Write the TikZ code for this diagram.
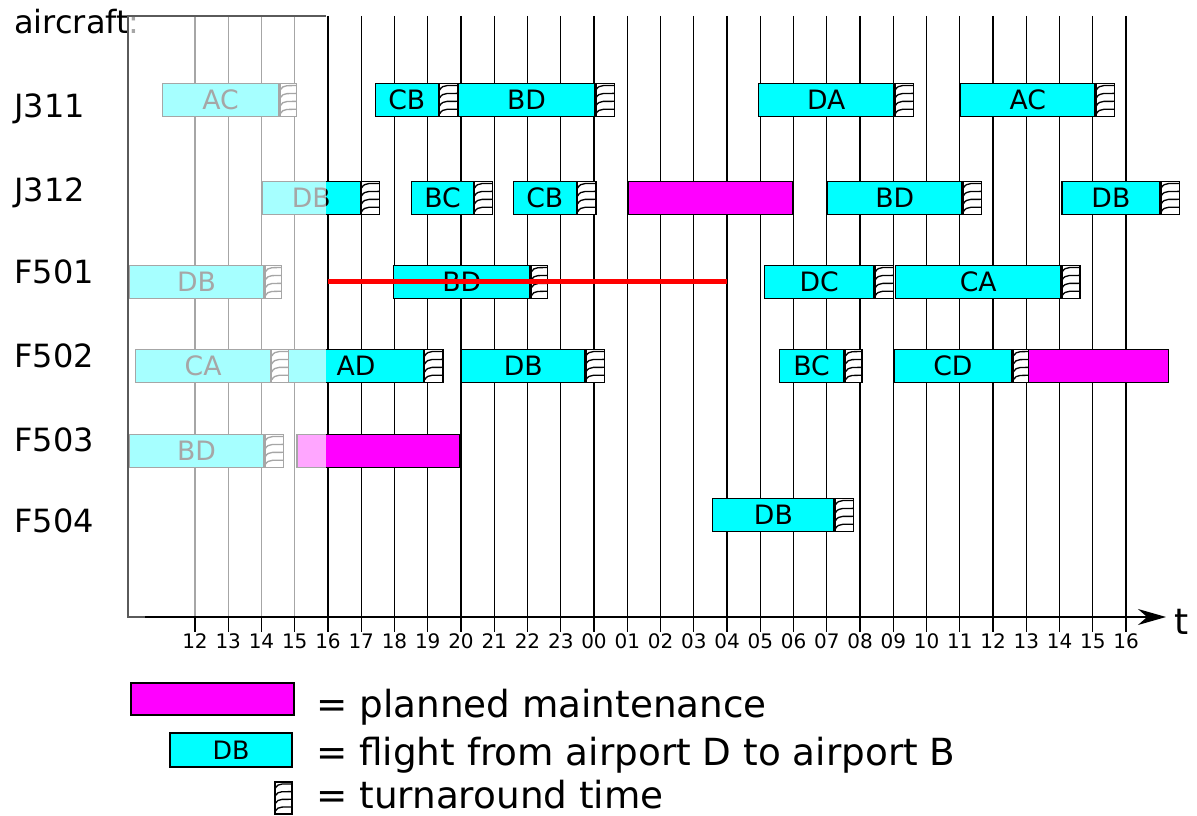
\documentclass[tikz,border=0pt]{standalone}
\usepackage{fontspec}
\setmainfont{DejaVu Sans}
\usetikzlibrary{arrows.meta,calc}
\definecolor{flightcyan}{HTML}{00FFFF}
\definecolor{maintmag}{HTML}{FF00FF}
\definecolor{delayred}{HTML}{FF0000}
\definecolor{pastgray}{HTML}{5A5A5A}
\newcommand{\hrpt}{24.9375pt}
\tikzset{
  flight/.style={rectangle,draw=black,fill=flightcyan,line width=1pt,minimum height=24.75pt,
    inner sep=0pt,font=\fontsize{20}{20}\selectfont},
  maint/.style={rectangle,draw=black,fill=maintmag,line width=1pt,minimum height=24.75pt,inner sep=0pt},
  turnaround/.style={rectangle,draw=black,fill=white,line width=0.9pt,minimum height=24.75pt,inner sep=0pt,
    path picture={
      \foreach \k in {0.08,0.32,0.56,0.80}{
        \draw[line width=1pt]
          ($(path picture bounding box.south west)!\k!(path picture bounding box.north west)$)
          to[out=65,in=185]
          ($(path picture bounding box.south east)!\k+0.14!(path picture bounding box.north east)$);
      }}},
  gridline/.style={line width=1.1pt,black},
  hourlab/.style={anchor=base,inner sep=0pt,font=\fontsize{15}{15}\selectfont},
  rowlab/.style={anchor=base west,inner sep=0pt,font=\fontsize{24}{24}\selectfont},
  legendlab/.style={anchor=base west,inner sep=0pt,font=\fontsize{28}{28}\selectfont},
}
% bar of one flight and its turnaround: name, row y, start, landing, ready, label
\newcommand{\flightbar}[6]{%
  \node[flight,anchor=west,minimum width={(#4-#3)*\hrpt}] (#1) at ({hr(#3)},#2) {#6};
  \node[turnaround,anchor=west,minimum width={(#5-#4)*\hrpt}] (#1T) at (#1.east) {};
}
\begin{document}
\begin{tikzpicture}[x=0.75pt,y=-0.75pt,declare function={hr(\h)=328+33.25*(\h-16);}]
  \useasboundingbox (0,0) rectangle (1197,816);
  % hour grid
  \foreach \h in {12,...,40}
    \draw[gridline] ({hr(\h)},16) -- ({hr(\h)},632);
  \foreach \lab [count=\i from 12] in {12,13,14,15,16,17,18,19,20,21,22,23,00,01,02,03,04,05,06,07,08,09,10,11,12,13,14,15,16}
    \node[hourlab] (h\i) at ({hr(\i)},648) {\lab};

  % aircraft rows
  \node[rowlab] (aircraft) at (14,34) {aircraft:};
  \node[rowlab] (lj311) at (14,118) {J311};
  \node[rowlab] (lj312) at (14,202) {J312};
  \node[rowlab] (lf501) at (14,284) {F501};
  \node[rowlab] (lf502) at (14,368) {F502};
  \node[rowlab] (lf503) at (14,452) {F503};
  \node[rowlab] (lf504) at (14,533) {F504};

  % J311
  \flightbar{jaa}{100}{11.0}{14.5}{15.0}{AC}
  \flightbar{jab}{100}{17.4}{19.3}{19.85}{CB}
  \flightbar{jac}{100}{19.9}{24.0}{24.55}{BD}
  \flightbar{jad}{100}{28.93}{33.0}{33.55}{DA}
  \flightbar{jae}{100}{35.0}{39.05}{39.6}{AC}
  % J312
  \flightbar{jba}{198}{14.0}{16.95}{17.5}{DB}
  \flightbar{jbb}{198}{18.5}{20.35}{20.9}{BC}
  \flightbar{jbc}{198}{21.55}{23.45}{24.0}{CB}
  \node[maint,anchor=west,minimum width={4.95*\hrpt}] (jbm) at ({hr(25.0)},198) {};
  \flightbar{jbd}{198}{31.0}{35.05}{35.6}{BD}
  \flightbar{jbe}{198}{38.05}{41.0}{41.55}{DB}
  % F501
  \flightbar{faa}{282}{10.0}{14.05}{14.55}{DB}
  \flightbar{fab}{282}{17.95}{22.05}{22.55}{BD}
  \flightbar{fac}{282}{29.1}{32.4}{32.95}{DC}
  \flightbar{fad}{282}{33.05}{38.02}{38.56}{CA}
  % F502
  \flightbar{fba}{366}{10.2}{14.25}{14.8}{CA}
  \flightbar{fbb}{366}{14.8}{18.85}{19.4}{AD}
  \flightbar{fbc}{366}{20.0}{23.7}{24.25}{DB}
  \flightbar{fbd}{366}{29.55}{31.5}{32.0}{BC}
  \flightbar{fbe}{366}{33.0}{36.55}{37.05}{CD}
  \node[maint,anchor=west,minimum width={4.2*\hrpt}] (fbm) at ({hr(37.05)},366) {};
  % F503
  \flightbar{fca}{451}{10.0}{14.05}{14.6}{BD}
  \node[maint,anchor=west,minimum width={4.9*\hrpt}] (fcm) at ({hr(15.05)},451) {};
  % F504
  \flightbar{fda}{515}{27.55}{31.2}{31.75}{DB}

  % unavailable period of F501
  \coordinate (outA) at ({hr(16)},282);
  \coordinate (outB) at ({hr(28)},282);
  \draw[delayred,line width=3.75pt] (outA) -- (outB);

  % past hours faded
  \fill[white,fill opacity=0.65] (128,16) rectangle (326,617);
  \draw[pastgray,line width=1.1pt] (326,16) -- (128,16) -- (128,617) -- (326,617);

  % time axis
  \coordinate (ax0) at (145,617);
  \coordinate (ax1) at (1166,617);
  \draw[line width=1.5pt,-{Stealth[length=21pt,width=12pt]}] (ax0) -- (ax1);
  \node[anchor=base west,inner sep=0pt,font=\fontsize{27}{27}\selectfont] (tlab) at (1174,634) {t};

  % legend
  \node[maint,minimum width={163*0.75pt},minimum height={32*0.75pt}] (legm) at (212.5,699) {};
  \node[legendlab] (legmt) at (316,717) {= planned maintenance};
  \node[flight,minimum width={122*0.75pt},minimum height={34*0.75pt},font=\fontsize{19}{19}\selectfont] (legf) at (231,750) {DB};
  \node[legendlab] (legft) at (316,765) {= flight from airport D to airport B};
  \node[turnaround,minimum width={17*0.75pt},minimum height={32*0.75pt}] (legt) at (283.5,798) {};
  \node[legendlab] (legtt) at (316,808) {= turnaround time};
\end{tikzpicture}
\end{document}
